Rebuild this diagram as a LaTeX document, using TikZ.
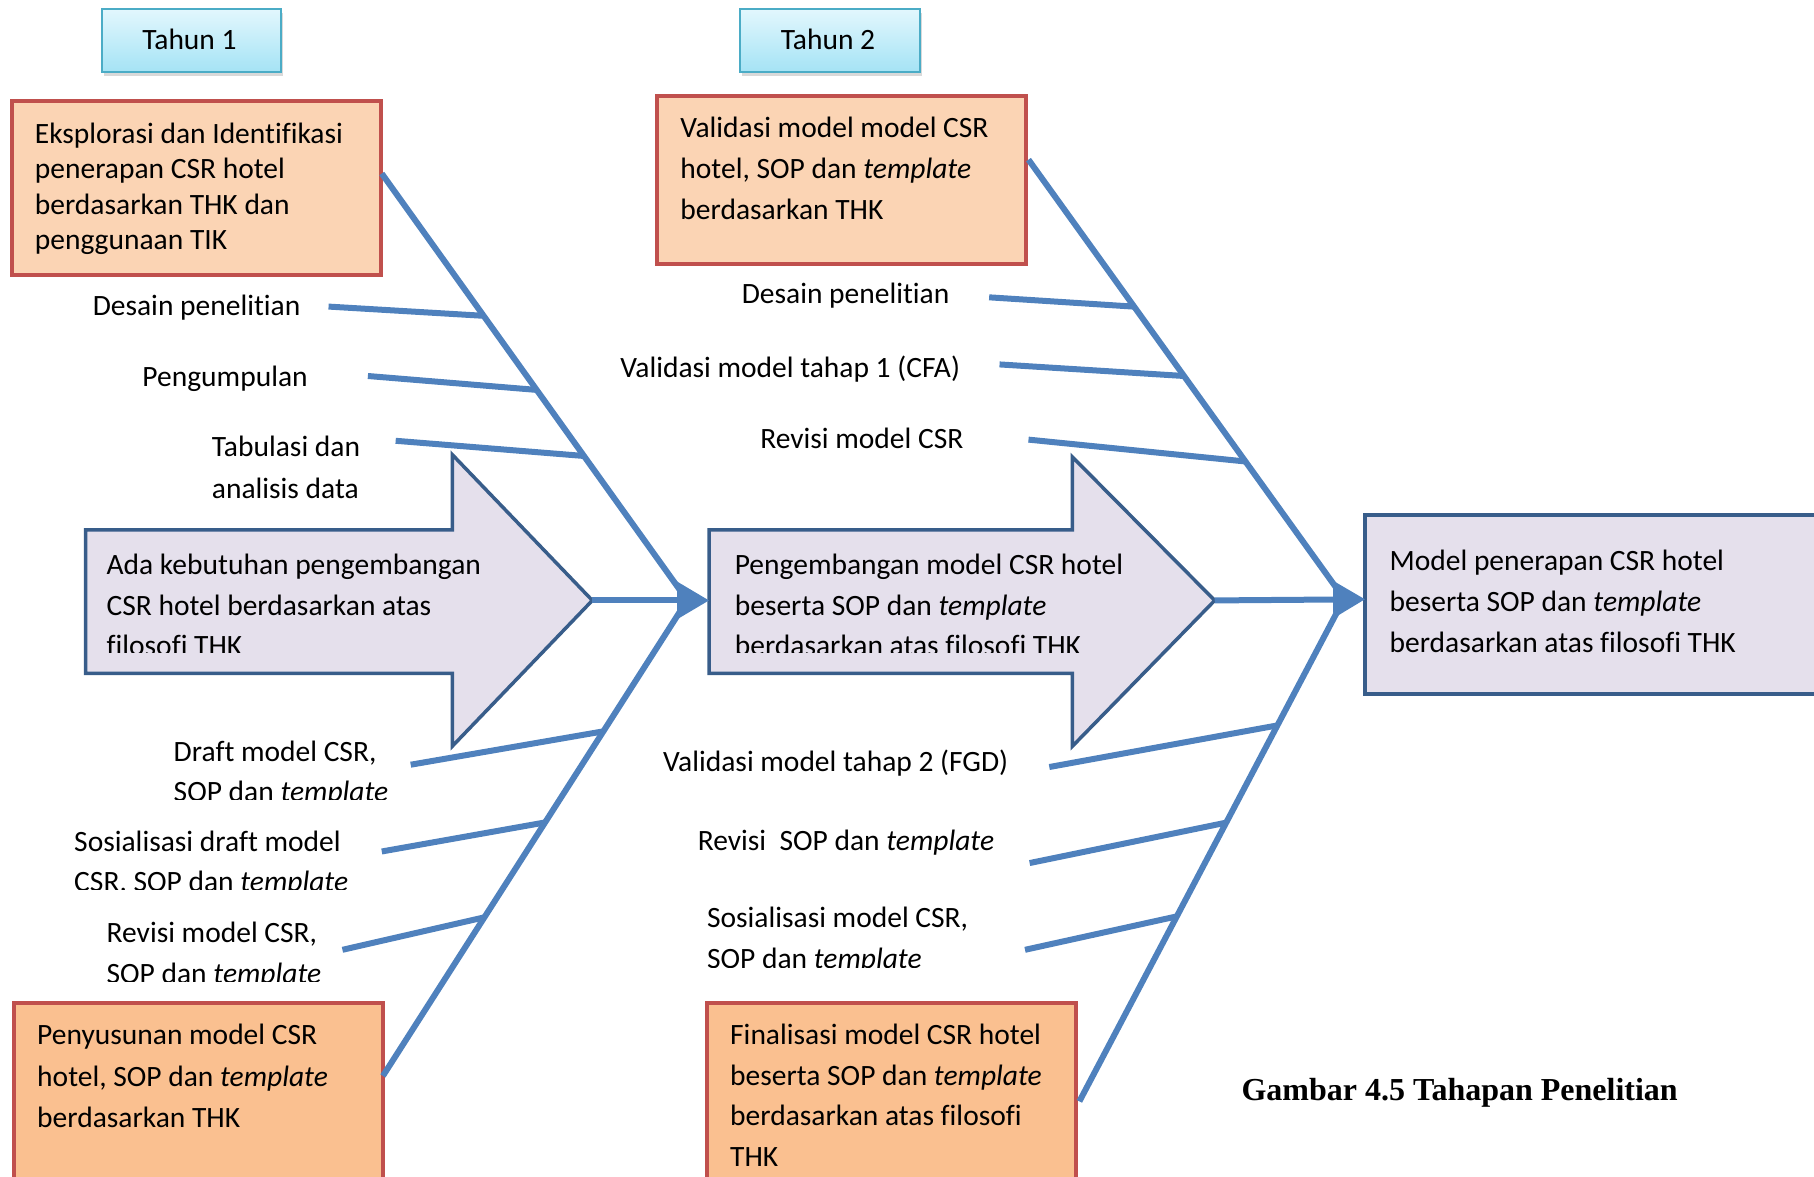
\documentclass[tikz,border=0pt]{standalone}
\usepackage{fontspec}
\setmainfont{Carlito}[Ligatures={NoCommon,NoContextual}]
\newfontfamily\capfont{Liberation Serif}
\usetikzlibrary{arrows.meta,shadows,fit,calc}

\definecolor{spineblue}{HTML}{4F81BD}
\definecolor{boxred}{HTML}{C0504D}
\definecolor{peachlight}{HTML}{FBD4B4}
\definecolor{peachdeep}{HTML}{FAC090}
\definecolor{lavender}{HTML}{E5E0EC}
\definecolor{navyline}{HTML}{385D8A}
\definecolor{tealline}{HTML}{4BACC6}
\definecolor{cyantop}{HTML}{E2F7FD}
\definecolor{cyanbot}{HTML}{A5E3F5}

% multi-line text block whose baseline is the first line
\newcommand\pb[1]{\parbox[t]{560pt}{\raggedright #1}}

\tikzset{
  lbl/.style={inner sep=0pt, anchor=base west, font=\fontsize{29.5}{40.5}\selectfont},
  yearbox/.style={draw=tealline, line width=2pt, top color=cyantop, bottom color=cyanbot,
    inner sep=0pt, drop shadow={shadow xshift=2pt, shadow yshift=-4pt, opacity=0.3}},
  redbox/.style={draw=boxred, line width=4pt, fill=#1, inner sep=0pt},
  purplebox/.style={draw=navyline, line width=3.5pt, fill=lavender, inner sep=0pt},
  bigarrow/.style={draw=navyline, line width=3.5pt, fill=lavender, line join=miter},
  spine/.style={draw=spineblue, line width=6pt},
  spinetip/.style={spine, -{Triangle[length=32pt,width=36pt]}},
}

\begin{document}
\begin{tikzpicture}[x=1.1569pt, y=-1.1569pt]
\useasboundingbox (0,0) rectangle (1568,1017);
\clip (0,0) rectangle (1568,1017);

% ---------- year headers ----------
\path (88,8) coordinate (t1a) (243,62) coordinate (t1b);
\node[yearbox, fit=(t1a)(t1b)] (t1) {};
\node[font=\fontsize{29.5}{35}\selectfont, inner sep=0pt] (t1txt) at ([xshift=-2pt,yshift=1pt]t1.center) {Tahun 1};
\path (640,8) coordinate (t2a) (795,62) coordinate (t2b);
\node[yearbox, fit=(t2a)(t2b)] (t2) {};
\node[font=\fontsize{29.5}{35}\selectfont, inner sep=0pt] (t2txt) at ([xshift=-2pt,yshift=1pt]t2.center) {Tahun 2};

% ---------- stage boxes ----------
\path (10,87) coordinate (b1a) (329,238) coordinate (b1b);
\node[redbox=peachlight, fit=(b1a)(b1b)] (b1) {};
\node[lbl, font=\fontsize{29.5}{35.5}\selectfont] (b1txt) at (30,124)
  {\pb{Eksplorasi dan Identifikasi\\penerapan CSR hotel\\berdasarkan THK dan\\penggunaan TIK}};

\path (568,83) coordinate (b2a) (887,228) coordinate (b2b);
\node[redbox=peachlight, fit=(b2a)(b2b)] (b2) {};
\node[lbl, font=\fontsize{29.5}{41}\selectfont] (b2txt) at (588,119)
  {\pb{Validasi model model CSR\\hotel, SOP dan \textit{template}\\berdasarkan THK}};

\path (12,867) coordinate (b3a) (331,1030) coordinate (b3b);
\node[redbox=peachdeep, fit=(b3a)(b3b)] (b3) {};
\node[lbl, font=\fontsize{29.5}{41.5}\selectfont] (b3txt) at (32,903)
  {\pb{Penyusunan model CSR\\hotel, SOP dan \textit{template}\\berdasarkan THK}};

\path (611,867) coordinate (b4a) (930,1030) coordinate (b4b);
\node[redbox=peachdeep, fit=(b4a)(b4b)] (b4) {};
\node[lbl] (b4txt) at (631,903)
  {\pb{Finalisasi model CSR hotel\\beserta SOP dan \textit{template}\\berdasarkan atas filosofi\\THK}};

% ---------- block arrows ----------
\draw[bigarrow] (74,458) -- (391,458) -- (391,393) -- (512,519) coordinate (a1tip)
  -- (391,645) -- (391,582) -- (74,582) -- cycle;
\begin{scope}
  \clip (60,450) rectangle (520,564);
  \node[lbl] (a1txt) at (92,497)
    {\pb{Ada kebutuhan pengembangan\\CSR hotel berdasarkan atas\\filosofi THK}};
\end{scope}

\draw[bigarrow] (613,458) coordinate (a2top) -- (927,458) -- (927,395) -- (1050,519) coordinate (a2tip)
  -- (927,645) -- (927,582) -- (613,582) -- cycle;
\coordinate (a2in) at (613,519);
\begin{scope}
  \clip (600,450) rectangle (1060,564);
  \node[lbl] (a2txt) at (635,497)
    {\pb{Pengembangan model CSR hotel\\beserta SOP dan \textit{template}\\berdasarkan atas filosofi THK}};
\end{scope}

% ---------- final outcome ----------
\path (1180,445) coordinate (fa) (1590,600) coordinate (fb);
\node[purplebox, fit=(fa)(fb)] (fin) {};
\coordinate (finin) at (1180,518);
\node[lbl, font=\fontsize{29.5}{41}\selectfont] (fintxt) at (1201,493)
  {\pb{Model penerapan CSR hotel\\beserta SOP dan \textit{template}\\berdasarkan atas filosofi THK}};

% ---------- year 1 bones ----------
\coordinate (U1s) at (330,150);  \coordinate (U1e) at (592,516);
\coordinate (L1s) at (331,930);  \coordinate (L1e) at (592,522);
\draw[spine] (U1s) -- (U1e);
\draw[spine] (L1s) -- (L1e);
\draw[spinetip] (a1tip) -- (a2in);

\draw[spine] (284,265) coordinate (r11) -- ($(U1s)!0.336!(U1e)$);
\draw[spine] (318,325) coordinate (r12) -- ($(U1s)!0.511!(U1e)$);
\draw[spine] (342,381) coordinate (r13) -- ($(U1s)!0.667!(U1e)$);
\draw[spine] (355,661) coordinate (r14) -- ($(L1s)!0.730!(L1e)$);
\draw[spine] (330,736) coordinate (r15) -- ($(L1s)!0.537!(L1e)$);
\draw[spine] (296,821) coordinate (r16) -- ($(L1s)!0.336!(L1e)$);

\node[lbl] (l11) at (80,273) {Desain penelitian};
\node[lbl] (l12) at (123,334) {Pengumpulan};
\node[lbl, font=\fontsize{29.5}{41.5}\selectfont] (l13) at (183,395) {\pb{Tabulasi dan\\analisis data}};
\begin{scope}
  \clip (40,620) rectangle (352,691);
  \node[lbl] (l14) at (150,658) {\pb{Draft model CSR,\\SOP dan \textit{template}}};
\end{scope}
\begin{scope}
  \clip (40,700) rectangle (352,769);
  \node[lbl] (l15) at (64,736) {\pb{Sosialisasi draft model\\CSR, SOP dan \textit{template}}};
\end{scope}
\begin{scope}
  \clip (40,780) rectangle (352,848);
  \node[lbl] (l16) at (92,815) {\pb{Revisi model CSR,\\SOP dan \textit{template}}};
\end{scope}

% ---------- year 2 bones ----------
\coordinate (U2s) at (889,138);  \coordinate (U2e) at (1160,515);
\coordinate (L2s) at (933,952);  \coordinate (L2e) at (1160,521);
\draw[spine] (U2s) -- (U2e);
\draw[spine] (L2s) -- (L2e);
\draw[spinetip] (a2tip) -- (finin);

\draw[spine] (855,257) coordinate (r21) -- ($(U2s)!0.337!(U2e)$);
\draw[spine] (864,315) coordinate (r22) -- ($(U2s)!0.496!(U2e)$);
\draw[spine] (889,380) coordinate (r23) -- ($(U2s)!0.692!(U2e)$);
\draw[spine] (907,663) coordinate (r24) -- ($(L2s)!0.754!(L2e)$);
\draw[spine] (890,746) coordinate (r25) -- ($(L2s)!0.559!(L2e)$);
\draw[spine] (886,821) coordinate (r26) -- ($(L2s)!0.371!(L2e)$);

\node[lbl] (l21) at (641,262) {Desain penelitian};
\node[lbl] (l22) at (536,326) {Validasi model tahap 1 (CFA)};
\node[lbl] (l23) at (657,388) {Revisi model CSR};
\node[lbl] (l24) at (573,667) {Validasi model tahap 2 (FGD)};
\node[lbl] (l25) at (603,735) {Revisi\ \ SOP dan \textit{template}};
\begin{scope}
  \clip (590,770) rectangle (880,836);
  \node[lbl, font=\fontsize{29.5}{41}\selectfont] (l26) at (611,802) {\pb{Sosialisasi model CSR,\\SOP dan \textit{template}}};
\end{scope}

% ---------- caption ----------
\node[inner sep=0pt, anchor=base west, font=\capfont\fontsize{32}{38}\selectfont\bfseries] (cap)
  at (1073,951) {Gambar 4.5 Tahapan Penelitian};
\end{tikzpicture}
\end{document}
